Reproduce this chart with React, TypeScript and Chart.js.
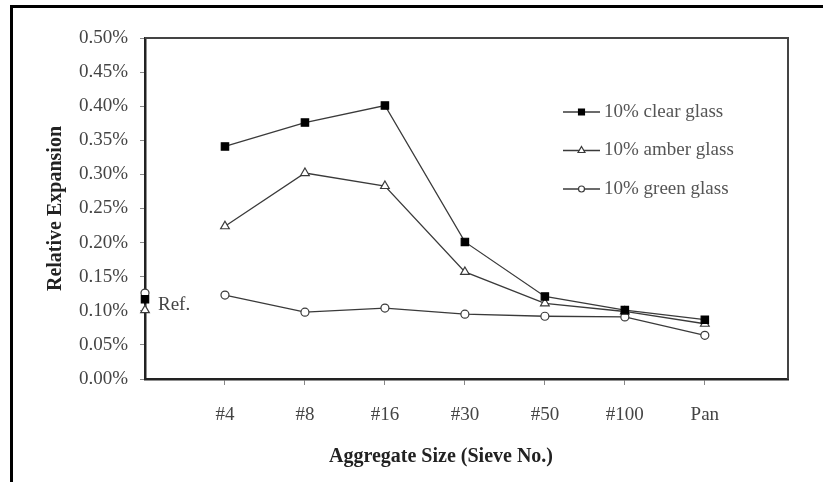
import { useEffect, useRef } from 'react';
import { Chart, registerables } from 'chart.js';

Chart.register(...registerables);

const categories = ['Ref.', '#4', '#8', '#16', '#30', '#50', '#100', 'Pan'];
const seriesLabels = ['10% clear glass', '10% amber glass', '10% green glass'];
const clearGlass = [0.117, 0.341, 0.376, 0.401, 0.201, 0.121, 0.101, 0.087];
const amberGlass = [0.101, 0.224, 0.302, 0.283, 0.157, 0.111, 0.099, 0.081];
const greenGlass = [0.126, 0.123, 0.098, 0.104, 0.095, 0.092, 0.091, 0.064];
const xTickValues = [1, 2, 3, 4, 5, 6, 7];
const yTickValues = [0, 0.05, 0.1, 0.15, 0.2, 0.25, 0.3, 0.35, 0.4, 0.45, 0.5];
const xTitle = 'Aggregate Size (Sieve No.)';
const yTitle = 'Relative Expansion';
const refLabel = 'Ref.';

const SERIF = '"Liberation Serif", "DejaVu Serif", serif';
const LINE = '#3a3a3a';

const toPoints = (vals: number[]) => vals.map((v, i) => ({ x: i, y: v }));

function drawMarker(ctx: CanvasRenderingContext2D, style: string, x: number, y: number, r: number, fill: string, stroke: string) {
  ctx.save();
  ctx.beginPath();
  if (style === 'rect') {
    const s = r * Math.SQRT1_2;
    ctx.rect(x - s, y - s, 2 * s, 2 * s);
  } else if (style === 'triangle') {
    const h = r * Math.sin(Math.PI / 3);
    ctx.moveTo(x, y - r);
    ctx.lineTo(x + h, y + r * 0.5);
    ctx.lineTo(x - h, y + r * 0.5);
    ctx.closePath();
  } else {
    ctx.arc(x, y, r, 0, Math.PI * 2);
  }
  ctx.fillStyle = fill;
  ctx.fill();
  ctx.lineWidth = 1.2;
  ctx.strokeStyle = stroke;
  ctx.stroke();
  ctx.restore();
}

const decorPlugin = {
  id: 'decor',
  beforeDatasetsDraw(chart: any) {
    const { ctx, chartArea } = chart;
    ctx.save();
    ctx.strokeStyle = '#444';
    ctx.lineWidth = 2;
    ctx.beginPath();
    ctx.moveTo(chartArea.left, chartArea.top);
    ctx.lineTo(chartArea.right, chartArea.top);
    ctx.lineTo(chartArea.right, chartArea.bottom);
    ctx.stroke();
    ctx.restore();
  },
  afterDraw(chart: any) {
    const { ctx, chartArea, scales } = chart;
    ctx.save();
    // x axis title
    ctx.font = `bold 20px ${SERIF}`;
    ctx.fillStyle = '#222';
    ctx.textAlign = 'center';
    ctx.textBaseline = 'middle';
    ctx.fillText(xTitle, chartArea.left + 296, chartArea.bottom + 78);
    // Ref. label
    ctx.font = `19px ${SERIF}`;
    ctx.fillStyle = '#444';
    ctx.textAlign = 'left';
    ctx.fillText(refLabel, scales.x.getPixelForValue(0) + 13, scales.y.getPixelForValue(0.108));
    // legend
    const ds = chart.data.datasets;
    const x0 = chartArea.right - 225;
    const y0 = chartArea.top + 74;
    ds.forEach((d: any, i: number) => {
      const y = y0 + i * 38.5;
      ctx.strokeStyle = LINE;
      ctx.lineWidth = 1.3;
      ctx.beginPath();
      ctx.moveTo(x0, y);
      ctx.lineTo(x0 + 37, y);
      ctx.stroke();
      drawMarker(ctx, d.pointStyle, x0 + 18.5, y, d.pointRadius - 1, d.pointBackgroundColor, d.pointBorderColor);
      ctx.font = `19px ${SERIF}`;
      ctx.fillStyle = '#555';
      ctx.textAlign = 'left';
      ctx.textBaseline = 'middle';
      ctx.fillText(d.label, x0 + 41, y);
    });
    ctx.restore();
  },
};

export default function App() {
  const ref = useRef<HTMLCanvasElement | null>(null);
  useEffect(() => {
    if (!ref.current) return;
    const hideRefSegment = { borderColor: (c: any) => (c.p0DataIndex === 0 ? 'rgba(0,0,0,0)' : undefined) };
    const base = {
      borderColor: LINE,
      borderWidth: 1.3,
      pointBorderColor: LINE,
      pointBorderWidth: 1.2,
      showLine: true,
      clip: false as any,
      segment: hideRefSegment,
    };
    const chart = new Chart(ref.current, {
      type: 'scatter',
      data: {
        datasets: [
          { ...base, label: seriesLabels[0], data: toPoints(clearGlass), pointStyle: 'rect', pointRadius: 5.2, pointBackgroundColor: '#000', pointBorderColor: '#000' },
          { ...base, label: seriesLabels[1], data: toPoints(amberGlass), pointStyle: 'triangle', pointRadius: 5, pointBackgroundColor: '#fff' },
          { ...base, label: seriesLabels[2], data: toPoints(greenGlass), pointStyle: 'circle', pointRadius: 4, pointBackgroundColor: '#fff' },
        ] as any,
      },
      options: {
        animation: false,
        responsive: false,
        layout: { padding: { left: 0, top: 38, right: 35, bottom: 0 } },
        plugins: { legend: { display: false }, tooltip: { enabled: false } },
        scales: {
          x: {
            type: 'linear',
            min: 0,
            max: 8.04,
            afterBuildTicks: (s: any) => { s.ticks = xTickValues.map((v) => ({ value: v })); },
            afterFit: (s: any) => { s.height = 103; },
            border: { display: true, color: '#222', width: 2.5 },
            grid: { drawOnChartArea: false, drawTicks: true, tickLength: 6, color: '#888', lineWidth: 1 },
            ticks: {
              autoSkip: false,
              maxRotation: 0,
              padding: 19,
              color: '#444',
              font: { family: SERIF, size: 19 },
              callback: (v: any) => categories[v as number] ?? '',
            },
          },
          y: {
            type: 'linear',
            min: 0,
            max: 0.5,
            afterBuildTicks: (s: any) => { s.ticks = yTickValues.map((v) => ({ value: v })); },
            afterFit: (s: any) => { s.width = 145; },
            border: { display: true, color: '#222', width: 2.5 },
            grid: { drawOnChartArea: false, drawTicks: true, tickLength: 5, color: '#888', lineWidth: 1 },
            title: {
              display: true,
              text: yTitle,
              color: '#222',
              font: { family: SERIF, size: 20, weight: 'bold' },
              padding: { top: 44, bottom: 0 },
            },
            ticks: {
              padding: 12,
              color: '#444',
              font: { family: SERIF, size: 19 },
              callback: (v: any) => (v as number).toFixed(2) + '%',
            },
          },
        },
      },
      plugins: [decorPlugin],
    });
    return () => chart.destroy();
  }, []);
  return (
    <div style={{ position: 'fixed', left: 0, top: 0, width: 823, height: 482, background: '#fff', overflow: 'hidden' }}>
      <div style={{ position: 'absolute', left: 10, top: 5, right: 0, bottom: 0, borderTop: '3px solid #000', borderLeft: '3px solid #000' }} />
      <canvas ref={ref} width={823} height={482} style={{ position: 'absolute', left: 0, top: 0, width: 823, height: 482 }} />
    </div>
  );
}
